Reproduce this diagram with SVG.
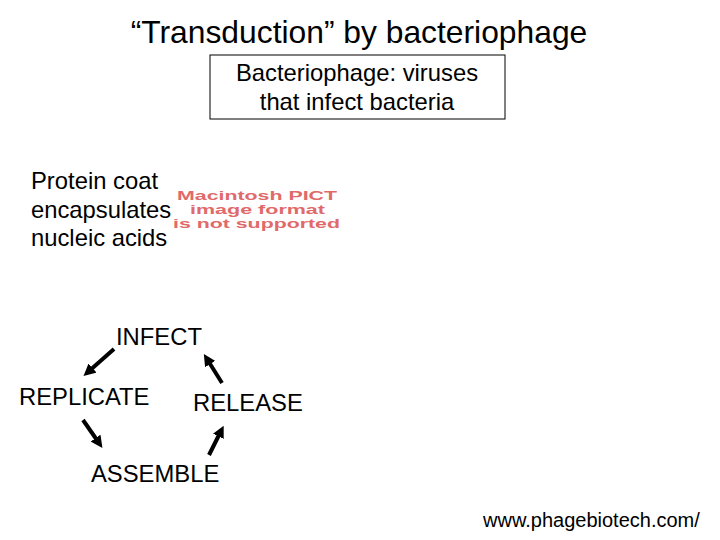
<svg xmlns="http://www.w3.org/2000/svg" width="720" height="540" viewBox="0 0 720 540">
<style>
text{font-family:"Liberation Sans",Arial,sans-serif;fill:#000}
.t{font-size:23.8px}
.pict{font-family:"Liberation Sans",Arial,sans-serif;font-weight:bold;font-size:13px;fill:#e06a6a}
.arr{stroke:#000;stroke-width:4;fill:none;marker-end:url(#ah)}
</style>
<defs>
<marker id="ah" viewBox="0 0 10 10" refX="5" refY="5" markerWidth="3" markerHeight="3" orient="auto" markerUnits="strokeWidth">
<path d="M0,0 L10,5 L0,10 z" fill="#000"/>
</marker>
</defs>
<rect width="720" height="540" fill="#fff"/>
<g id="title"><text x="359" y="43" font-size="31.8" text-anchor="middle">“Transduction” by bacteriophage</text></g>
<g id="definition">
<rect x="210" y="55" width="295" height="64" fill="#fff" stroke="#000" stroke-width="1"/>
<text class="t" x="357" y="81" text-anchor="middle">Bacteriophage: viruses</text>
<text class="t" x="357" y="110" text-anchor="middle">that infect bacteria</text>
</g>
<g id="protein">
<text class="t" x="31" y="189">Protein coat</text>
<text class="t" x="31" y="218">encapsulates</text>
<text class="t" x="31" y="246">nucleic acids</text>
</g>
<g id="pict">
<text class="pict" x="177" y="200" textLength="160" lengthAdjust="spacingAndGlyphs">Macintosh PICT</text>
<text class="pict" x="190" y="214" textLength="135" lengthAdjust="spacingAndGlyphs">image format</text>
<text class="pict" x="173" y="228" textLength="167" lengthAdjust="spacingAndGlyphs">is not supported</text>
</g>
<g id="infect"><text class="t" x="116" y="345">INFECT</text></g>
<g id="replicate"><text class="t" x="19" y="405">REPLICATE</text></g>
<g id="release"><text class="t" x="193" y="411">RELEASE</text></g>
<g id="assemble"><text class="t" x="91" y="482">ASSEMBLE</text></g>
<g id="connectors">
<line class="arr" x1="114" y1="349" x2="88" y2="372"/>
<line class="arr" x1="83" y1="420" x2="99" y2="443"/>
<line class="arr" x1="209" y1="455" x2="221" y2="431"/>
<line class="arr" x1="222" y1="383" x2="207" y2="359"/>
</g>
<g id="url"><text x="483" y="527" font-size="20">www.phagebiotech.com/</text></g>
</svg>
